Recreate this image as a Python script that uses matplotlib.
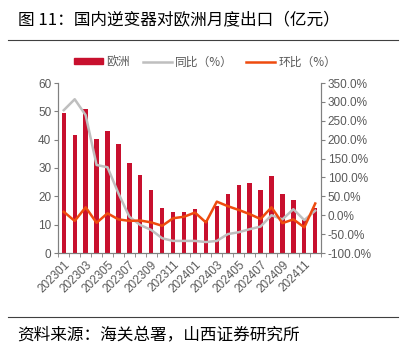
import matplotlib
matplotlib.use("Agg")
import numpy as np
import matplotlib.pyplot as plt
from matplotlib.lines import Line2D
from matplotlib.patches import Patch
from matplotlib.ticker import FuncFormatter, MultipleLocator

plt.rcParams["font.family"] = ["Liberation Sans", "Noto Sans CJK SC", "DejaVu Sans"]

# ── Data ─────────────────────────────────────────────────────
months = ["202301", "202302", "202303", "202304", "202305", "202306",
          "202307", "202308", "202309", "202310", "202311", "202312",
          "202401", "202402", "202403", "202404", "202405", "202406",
          "202407", "202408", "202409", "202410", "202411", "202412"]
europe = [49.4, 41.6, 50.8, 40.3, 43.1, 38.6, 31.7, 27.5, 22.4, 15.9, 14.6, 14.4,
          15.5, 11.8, 16.6, 20.8, 24.0, 24.7, 22.2, 27.3, 20.8, 18.8, 11.8, 15.9]
yoy = [278, 307, 265, 133, 127, 58, -4, -26, -39, -61, -68, -68,
       -68, -71, -68, -50, -45, -37, -30, 0, -11, 16, -13, 12]
mom = [9, -15, 21, -20, 5, -11, -15, -14, -19, -28, -8, -4,
       7, -19, 36, 24, 14, 3, -10, 21, -21, -11, -32, 31]

BAR_C = "#C8102E"
YOY_C = "#BFBFBF"
MOM_C = "#EE4B0E"
AX_C = "#808080"
TXT_C = "#595959"
FS = 8.5

fig = plt.figure(figsize=(4.12, 3.51), dpi=100)
ax = fig.add_axes([58.3 / 412, 1 - 253 / 351, 262.4 / 412, 170 / 351])
ax2 = ax.twinx()

x = np.arange(len(months))
ax.bar(x, europe, width=0.4, color=BAR_C, zorder=2)
ax2.plot(x, yoy, color=YOY_C, linewidth=1.8, zorder=3)
ax2.plot(x, mom, color=MOM_C, linewidth=1.8, zorder=4)

ax.set_xlim(-0.5, len(months) - 0.5)
ax.set_ylim(0, 60)
ax.yaxis.set_major_locator(MultipleLocator(10))
ax2.set_ylim(-100, 350)
ax2.yaxis.set_major_locator(MultipleLocator(50))
ax2.yaxis.set_major_formatter(FuncFormatter(lambda v, p: f"{v:.1f}%"))

ax.set_xticks(x[::2])
ax.set_xticklabels(months[::2], rotation=45, ha="right", rotation_mode="anchor")
ax.set_xticks(np.arange(-0.5, len(months)), minor=True)
ax.tick_params(axis="x", which="major", length=0, pad=4, labelsize=FS, labelcolor=TXT_C)
ax.tick_params(axis="x", which="minor", length=3, color=AX_C, direction="out")
ax.tick_params(axis="y", length=3, color=AX_C, labelsize=FS, labelcolor=TXT_C, pad=2)
ax2.tick_params(axis="y", length=3, color=AX_C, labelsize=FS, labelcolor=TXT_C, pad=2)

for a in (ax, ax2):
    a.spines["top"].set_visible(False)
    for s in ("left", "right", "bottom"):
        a.spines[s].set_color(AX_C)
ax.set_zorder(ax2.get_zorder() - 1)
ax2.patch.set_visible(False)

handles = [Patch(color=BAR_C), Line2D([], [], color=YOY_C, linewidth=1.8),
           Line2D([], [], color=MOM_C, linewidth=1.8)]
fig.legend(handles, ["欧洲", "同比（%）", "环比（%）"], loc="center",
           bbox_to_anchor=(205 / 412, 1 - 62 / 351), ncol=3, frameon=False,
           labelcolor=TXT_C, handlelength=2.5, handleheight=0.45,
           columnspacing=1.1, handletextpad=0.25,
           prop={"family": ["Noto Sans CJK SC"], "size": 8.5})

fig.text(18 / 412, 1 - 21 / 351, "图 11：国内逆变器对欧洲月度出口（亿元）",
         fontsize=12, va="center", ha="left", family=["Noto Sans CJK SC"])
fig.text(17 / 412, 1 - 336 / 351, "资料来源：海关总署，山西证券研究所",
         fontsize=12, va="center", ha="left", family=["Noto Sans CJK SC"])
fig.add_artist(Line2D([8 / 412, 398 / 412], [1 - 40 / 351] * 2, color="#404040", linewidth=0.8))
fig.add_artist(Line2D([8 / 412, 398 / 412], [1 - 317 / 351] * 2, color="#404040", linewidth=0.8))

fig.savefig("out.png", dpi=100)
